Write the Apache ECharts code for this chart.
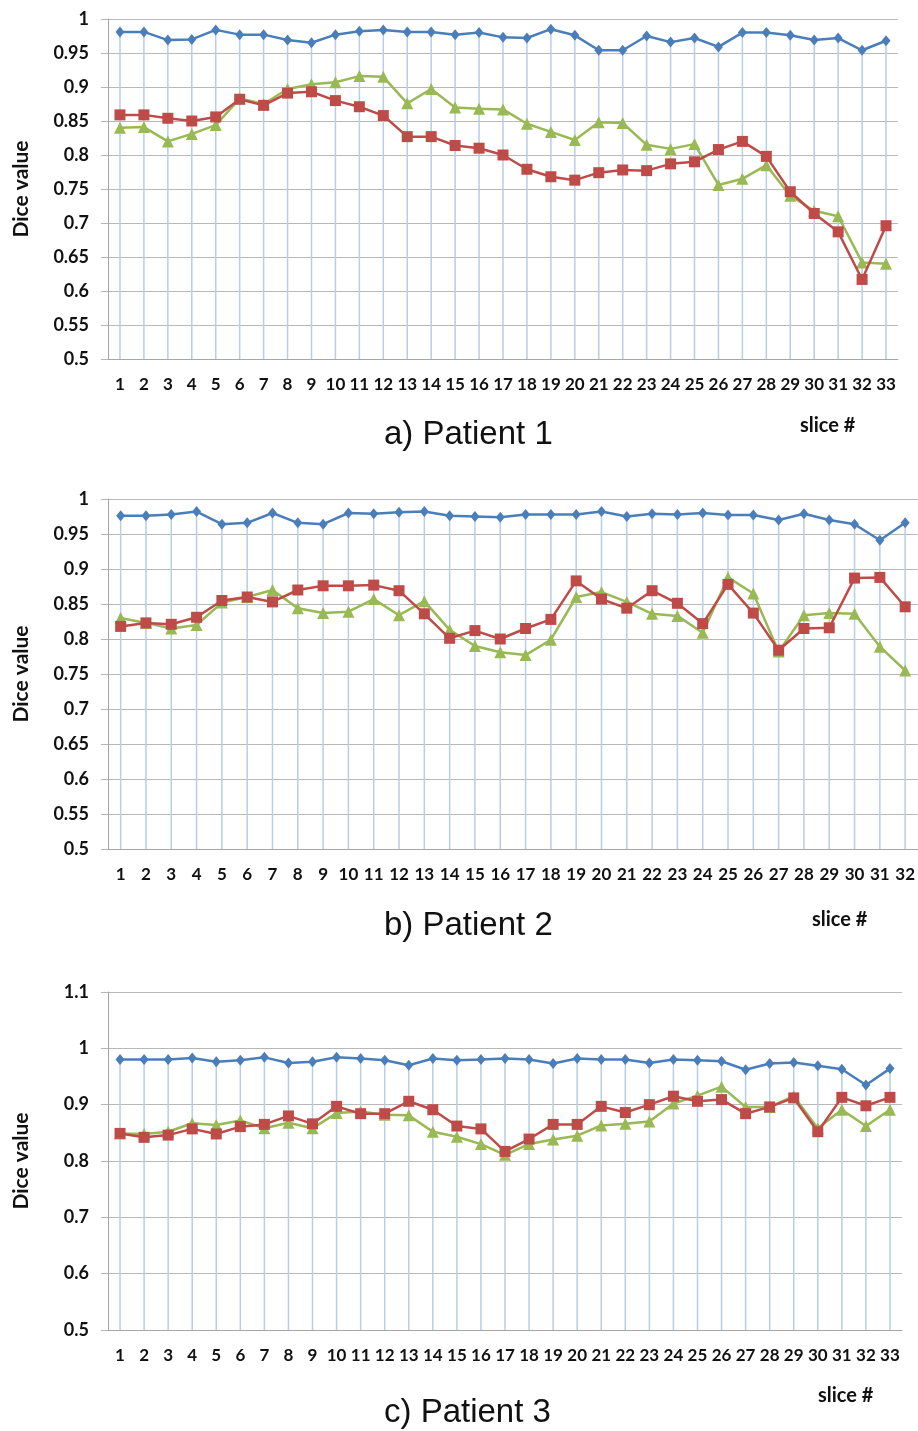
<!DOCTYPE html>
<html>
<head>
<meta charset="utf-8">
<script src="https://cdn.jsdelivr.net/npm/echarts@6/dist/echarts.min.js"></script>
<style>
html,body{margin:0;padding:0;background:#fff;}
#chart{width:918px;height:1431px;}
</style>
</head>
<body>
<div id="chart"></div>
<script>
// ---- Data ----
const slicesA = ['1','2','3','4','5','6','7','8','9','10','11','12','13','14','15','16','17','18','19','20','21','22','23','24','25','26','27','28','29','30','31','32','33'];
const slicesB = ['1','2','3','4','5','6','7','8','9','10','11','12','13','14','15','16','17','18','19','20','21','22','23','24','25','26','27','28','29','30','31','32'];
const slicesC = slicesA;

const blueA  = [0.981,0.981,0.969,0.970,0.984,0.977,0.977,0.969,0.965,0.977,0.982,0.984,0.981,0.981,0.977,0.980,0.973,0.972,0.985,0.976,0.954,0.954,0.975,0.966,0.972,0.959,0.980,0.980,0.976,0.969,0.972,0.954,0.968];
const redA   = [0.859,0.859,0.854,0.850,0.856,0.882,0.873,0.891,0.893,0.880,0.871,0.858,0.827,0.827,0.814,0.810,0.800,0.779,0.768,0.763,0.774,0.778,0.777,0.787,0.790,0.808,0.820,0.798,0.746,0.714,0.687,0.617,0.696];
const greenA = [0.840,0.841,0.820,0.831,0.844,0.883,0.875,0.897,0.904,0.907,0.916,0.915,0.876,0.897,0.870,0.868,0.867,0.846,0.834,0.822,0.848,0.847,0.815,0.809,0.816,0.756,0.765,0.785,0.740,0.718,0.710,0.642,0.640];

const blueB  = [0.976,0.976,0.978,0.982,0.964,0.966,0.980,0.966,0.964,0.980,0.979,0.981,0.982,0.976,0.975,0.974,0.978,0.978,0.978,0.982,0.975,0.979,0.978,0.980,0.977,0.977,0.970,0.979,0.970,0.964,0.941,0.966];
const redB   = [0.818,0.823,0.821,0.831,0.855,0.860,0.853,0.870,0.876,0.876,0.877,0.869,0.836,0.801,0.812,0.800,0.815,0.828,0.883,0.857,0.844,0.869,0.851,0.822,0.878,0.837,0.784,0.815,0.816,0.887,0.888,0.846];
const greenB = [0.830,0.823,0.815,0.820,0.852,0.860,0.870,0.844,0.837,0.839,0.857,0.834,0.854,0.813,0.790,0.781,0.777,0.799,0.860,0.867,0.853,0.836,0.833,0.809,0.888,0.865,0.782,0.834,0.837,0.836,0.789,0.755];

const blueC  = [0.980,0.980,0.980,0.983,0.976,0.979,0.984,0.974,0.976,0.984,0.982,0.979,0.970,0.982,0.979,0.980,0.982,0.980,0.973,0.982,0.980,0.980,0.974,0.980,0.979,0.977,0.962,0.973,0.975,0.969,0.963,0.935,0.964];
const redC   = [0.849,0.842,0.846,0.857,0.848,0.861,0.865,0.880,0.866,0.897,0.884,0.884,0.906,0.891,0.862,0.857,0.817,0.839,0.865,0.865,0.897,0.886,0.900,0.915,0.906,0.909,0.884,0.896,0.912,0.852,0.913,0.898,0.913];
const greenC = [0.849,0.848,0.852,0.867,0.864,0.872,0.858,0.868,0.858,0.885,0.888,0.882,0.881,0.852,0.843,0.830,0.811,0.830,0.838,0.845,0.863,0.866,0.870,0.902,0.916,0.932,0.896,0.896,0.915,0.858,0.891,0.862,0.891];

const titles = ['a) Patient 1','b) Patient 2','c) Patient 3'];
const yTitle = 'Dice value';
const xTitle = 'slice #';

// ---- Styles ----
const BLUE = '#4a7ebb', RED = '#be4b48', GREEN = '#98b954', DROP = '#b9cde5';
const LBL = 'Lato, "Open Sans", sans-serif';

const panels = [
  {cats: slicesA, blue: blueA, red: redA, green: greenA, top: 19, height: 340, width: 790, min: 0.5, max: 1, interval: 0.05},
  {cats: slicesB, blue: blueB, red: redB, green: greenB, top: 499, height: 350, width: 811, min: 0.5, max: 1, interval: 0.05},
  {cats: slicesC, blue: blueC, red: redC, green: greenC, top: 992, height: 338, width: 794, min: 0.5, max: 1.1, interval: 0.1}
];

const grid = [], xAxis = [], yAxis = [], series = [];
panels.forEach((p, i) => {
  grid.push({left: 108, top: p.top, width: p.width, height: p.height, containLabel: false});
  xAxis.push({
    type: 'category', gridIndex: i, data: p.cats, boundaryGap: true,
    axisLine: {show: true, lineStyle: {color: '#a6a6a6', width: 1}},
    axisTick: {show: false},
    axisLabel: {interval: 0, margin: 17, fontFamily: LBL, fontWeight: 'bold', fontSize: 17, color: '#111'},
    splitLine: {show: false}
  });
  yAxis.push({
    type: 'value', gridIndex: i, min: p.min, max: p.max, interval: p.interval,
    name: yTitle, nameLocation: 'middle', nameGap: 76, nameRotate: 90,
    nameTextStyle: {fontFamily: LBL, fontWeight: 'bold', fontSize: 21, color: '#111'},
    axisLine: {show: true, lineStyle: {color: '#a6a6a6', width: 1}},
    axisTick: {show: true, length: 7, lineStyle: {color: '#b5b5b5'}},
    axisLabel: {margin: 19, fontFamily: LBL, fontWeight: 'bold', fontSize: 18, color: '#111'},
    splitLine: {show: true, lineStyle: {color: '#b8b8b8', width: 1}}
  });
  const maxVals = p.blue.map((v, k) => Math.max(v, p.red[k], p.green[k]));
  series.push({
    type: 'bar', xAxisIndex: i, yAxisIndex: i, data: maxVals, barWidth: 1.5,
    itemStyle: {color: DROP}, silent: true, z: 1, clip: true
  });
  series.push({
    type: 'line', xAxisIndex: i, yAxisIndex: i, data: p.green, z: 3,
    symbol: 'triangle', symbolSize: 12,
    lineStyle: {color: GREEN, width: 2.5}, itemStyle: {color: GREEN}
  });
  series.push({
    type: 'line', xAxisIndex: i, yAxisIndex: i, data: p.red, z: 4,
    symbol: 'rect', symbolSize: 11,
    lineStyle: {color: RED, width: 2.5}, itemStyle: {color: RED}
  });
  series.push({
    type: 'line', xAxisIndex: i, yAxisIndex: i, data: p.blue, z: 5,
    symbol: 'diamond', symbolSize: [9, 11],
    lineStyle: {color: BLUE, width: 2.5}, itemStyle: {color: BLUE}
  });
});

const titlePos = [
  {x: 384, y: 435, sx: 800, sy: 428},
  {x: 384, y: 926, sx: 812, sy: 922},
  {x: 384, y: 1413, sx: 818, sy: 1398}
];
const graphic = [];
titlePos.forEach((t, i) => {
  graphic.push({type: 'text', left: t.x, top: t.y - 17, style: {text: titles[i], font: '33px "Liberation Sans", Arial, sans-serif', fill: '#111'}});
  graphic.push({type: 'text', left: t.sx, top: t.sy - 12, style: {text: xTitle, font: 'bold 20px ' + LBL, fill: '#111'}});
});

const chart = echarts.init(document.getElementById('chart'), null, {renderer: 'canvas'});
chart.setOption({
  animation: false,
  backgroundColor: '#fff',
  grid, xAxis, yAxis, series, graphic,
  tooltip: {show: false}
});
</script>
</body>
</html>
